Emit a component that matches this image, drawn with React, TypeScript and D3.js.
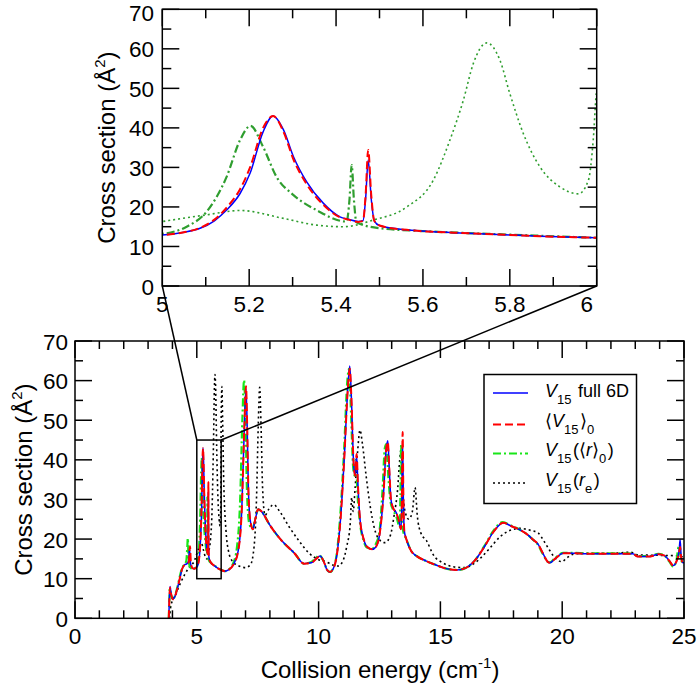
import React from 'react';
import * as d3 from 'd3';

// V15 full 6D  [energy (cm-1), cross section (Å^2)]
const full6D: [number, number][] = [
  [3.85, 0], [3.87, 4], [3.9, 8.0], [3.95, 6.0], [4.02, 4.8], [4.1, 5.5], [4.2, 7.5], [4.3, 10], [4.4, 12.5],
  [4.5, 13.5], [4.6, 13.8], [4.66, 14.5], [4.7, 17.5], [4.74, 14], [4.8, 12.8], [4.9, 12.5], [4.97, 12.8],
  [5.0, 12.9], [5.05, 13.6], [5.087, 14.6], [5.12, 16.5], [5.148, 19.2], [5.179, 23.4], [5.202, 28.5],
  [5.232, 39], [5.255, 43], [5.279, 39.5], [5.302, 32.7], [5.332, 26.4], [5.371, 20.9], [5.409, 17.5],
  [5.428, 16.9], [5.451, 16.3], [5.462, 16.5], [5.468, 22], [5.474, 31.9], [5.481, 22], [5.488, 16.5],
  [5.5, 15.3], [5.563, 14.2], [5.716, 13.3], [5.869, 12.6], [6.0, 12.2], [6.16, 11.9], [6.3, 12.2],
  [6.5, 13.5], [6.7, 17], [6.85, 28], [6.95, 48], [7.02, 58], [7.07, 48], [7.12, 32], [7.2, 24.5],
  [7.3, 22.5], [7.4, 25], [7.52, 27.5], [7.65, 27], [8.0, 23.5], [8.5, 19.5], [9.0, 16.5], [9.4, 13.8],
  [9.7, 14], [9.9, 15], [10.06, 15.7], [10.2, 14.5], [10.35, 12.2], [10.47, 11.7], [10.6, 12.5],
  [10.75, 16], [10.9, 25], [11.05, 40], [11.2, 58], [11.28, 63.7], [11.35, 55], [11.43, 40], [11.5, 36],
  [11.56, 41], [11.62, 33], [11.7, 25], [11.85, 20], [12.0, 18], [12.2, 17.4], [12.35, 18], [12.5, 21],
  [12.65, 30], [12.78, 43], [12.84, 44.8], [12.9, 38], [12.97, 30], [13.05, 28], [13.2, 26.5],
  [13.3, 24.5], [13.38, 22.5], [13.42, 30], [13.45, 44], [13.48, 30], [13.52, 22], [13.6, 20],
  [13.8, 17], [14.0, 15.8], [14.4, 14.5], [14.8, 13.5], [15.2, 12.6], [15.67, 12.2], [16.0, 12.6],
  [16.4, 14.5], [16.8, 18], [17.2, 22], [17.58, 24.1], [17.9, 23.3], [18.27, 22.3], [18.6, 21],
  [18.81, 19.8], [19.0, 18.8], [19.2, 16.5], [19.4, 14.3], [19.5, 14.0], [19.7, 15], [20.05, 16.4],
  [20.5, 16.4], [21, 16.3], [22, 16.3], [22.5, 16.3], [22.9, 16.3], [23.1, 15.6], [23.6, 15.6],
  [23.95, 16.2], [24.2, 15.8], [24.4, 14.5], [24.56, 13.3], [24.7, 14.5], [24.8, 17], [24.84, 19.9],
  [24.88, 16], [24.95, 14], [25.0, 14],
];

// <V15>0
const avgV15: [number, number][] = [
  [3.85, 0], [3.87, 4], [3.9, 7.8], [3.95, 6.0], [4.02, 4.8], [4.1, 5.5], [4.2, 7.5], [4.3, 10], [4.4, 12.5],
  [4.5, 13.5], [4.6, 13.8], [4.67, 14.2], [4.72, 18.2], [4.76, 13.8], [4.82, 12.7], [4.9, 12.5], [4.97, 12.8],
  [5.0, 12.9], [5.05, 13.6], [5.087, 14.7], [5.12, 16.8], [5.148, 19.8], [5.179, 24.5], [5.202, 30],
  [5.232, 40], [5.255, 43], [5.279, 39], [5.302, 32], [5.332, 25.8], [5.371, 20.5], [5.409, 17.4],
  [5.428, 16.8], [5.451, 16.2], [5.462, 16.5], [5.468, 23], [5.474, 34.4], [5.481, 23], [5.488, 16.5],
  [5.5, 15.3], [5.563, 14.2], [5.716, 13.3], [5.869, 12.6], [6.0, 12.2], [6.16, 11.9], [6.3, 12.2],
  [6.5, 13.5], [6.7, 17], [6.85, 28], [6.95, 48], [7.02, 58.6], [7.07, 48], [7.12, 32], [7.2, 24.5],
  [7.3, 22.5], [7.4, 25], [7.52, 27.5], [7.65, 27], [8.0, 23.5], [8.5, 19.5], [9.0, 16.5], [9.4, 13.8],
  [9.7, 14], [9.9, 15], [10.06, 15.7], [10.2, 14.5], [10.35, 12.2], [10.47, 11.7], [10.6, 12.5],
  [10.75, 16], [10.9, 25], [11.05, 40], [11.2, 58], [11.28, 63], [11.35, 55], [11.43, 40], [11.5, 36],
  [11.56, 41.5], [11.62, 33], [11.7, 25], [11.85, 20], [12.0, 18], [12.2, 17.4], [12.35, 18], [12.5, 21],
  [12.65, 30], [12.78, 43], [12.84, 44.5], [12.9, 38], [12.97, 30], [13.05, 28], [13.2, 26.5],
  [13.3, 24.5], [13.38, 22.5], [13.42, 31], [13.45, 47], [13.48, 31], [13.52, 22], [13.6, 20],
  [13.8, 17], [14.0, 15.8], [14.4, 14.5], [14.8, 13.5], [15.2, 12.6], [15.67, 12.2], [16.0, 12.6],
  [16.4, 14.5], [16.8, 18], [17.2, 22], [17.58, 24.1], [17.9, 23.3], [18.27, 22.3], [18.6, 21],
  [18.81, 19.8], [19.0, 18.8], [19.2, 16.5], [19.4, 14.3], [19.5, 14.0], [19.7, 15], [20.05, 16.4],
  [20.5, 16.4], [21, 16.3], [22, 16.3], [22.5, 16.3], [22.9, 16.3], [23.1, 15.6], [23.6, 15.6],
  [23.95, 16.2], [24.2, 15.8], [24.4, 14.5], [24.56, 13.3], [24.7, 14.5], [24.8, 16.5], [24.84, 18],
  [24.88, 15.5], [24.95, 14], [25.0, 14],
];

// V15(<r>0)
const avgR: [number, number][] = [
  [3.85, 0], [3.87, 4], [3.89, 7.5], [3.95, 5.8], [4.02, 4.8], [4.1, 5.6], [4.2, 7.8], [4.3, 10.5],
  [4.4, 12.8], [4.5, 13.6], [4.57, 14.5], [4.61, 18], [4.63, 20.2], [4.66, 15], [4.72, 13], [4.8, 12.5],
  [4.9, 12.6], [5.0, 13.2], [5.056, 15], [5.102, 18.8], [5.148, 27.6], [5.179, 36.9], [5.203, 40.5],
  [5.232, 35.2], [5.263, 27.6], [5.302, 23], [5.355, 19.2], [5.424, 16.3], [5.431, 22], [5.436, 30.6],
  [5.441, 22], [5.447, 16.1], [5.501, 14.6], [5.6, 13.9], [5.8, 13], [6.0, 12.2], [6.16, 11.9],
  [6.3, 12.3], [6.5, 14], [6.65, 18], [6.78, 30], [6.87, 50], [6.94, 60.1], [7.0, 50], [7.06, 32],
  [7.15, 24], [7.28, 22.5], [7.4, 25], [7.52, 27.5], [7.65, 27], [8.0, 23.5], [8.5, 19.5], [9.0, 16.5],
  [9.4, 13.8], [9.7, 14.2], [9.9, 15.3], [10.03, 15.9], [10.2, 14.5], [10.35, 12.2], [10.47, 11.7],
  [10.6, 12.6], [10.75, 16.5], [10.9, 27], [11.05, 43], [11.18, 60], [11.25, 63], [11.33, 52],
  [11.42, 38], [11.48, 36], [11.53, 40], [11.6, 31], [11.7, 24], [11.85, 19.5], [12.0, 17.8],
  [12.2, 17.6], [12.35, 18.8], [12.5, 22], [12.62, 32], [12.72, 43], [12.78, 44], [12.86, 36],
  [12.95, 29.5], [13.05, 27.5], [13.2, 25.5], [13.33, 23], [13.36, 32], [13.39, 44], [13.42, 30],
  [13.47, 22], [13.6, 20], [13.8, 17], [14.0, 15.8], [14.4, 14.5], [14.8, 13.5], [15.2, 12.6],
  [15.67, 12.2], [16.0, 12.6], [16.4, 14.5], [16.8, 18.2], [17.2, 22.3], [17.55, 24.3], [17.9, 23.4],
  [18.27, 22.3], [18.6, 21], [18.81, 19.8], [19.0, 18.6], [19.2, 16.3], [19.4, 14.3], [19.5, 14.1],
  [19.7, 15.2], [20.05, 16.5], [20.5, 16.5], [21, 16.4], [22, 16.4], [22.5, 16.4], [22.9, 16.3],
  [23.1, 15.7], [23.6, 15.7], [23.95, 16.3], [24.2, 15.8], [24.4, 14.3], [24.56, 13], [24.7, 15],
  [24.78, 18], [24.82, 17], [24.9, 14.5], [25.0, 13.5],
];

// V15(re)
const rEq: [number, number][] = [
  [3.88, 0], [3.92, 2.5], [4.0, 4.5], [4.1, 5.5], [4.3, 8.5], [4.5, 11], [4.7, 13], [4.9, 14.5],
  [5.0, 16.3], [5.102, 18], [5.179, 19.1], [5.279, 17.1], [5.355, 15.4], [5.417, 15], [5.486, 16.7],
  [5.563, 20], [5.624, 26.8], [5.662, 36.9], [5.693, 47], [5.716, 56.3], [5.747, 61.5], [5.777, 57.2],
  [5.8, 48.7], [5.831, 38.6], [5.869, 30.2], [5.915, 25.1], [5.958, 23.3], [5.981, 26.8], [5.992, 36.9],
  [6.0, 49.6], [6.03, 58.5], [6.06, 50], [6.1, 36], [6.2, 22], [6.3, 17], [6.45, 14.5], [6.7, 13.3],
  [7.0, 12.8], [7.2, 13.5], [7.35, 18], [7.45, 30], [7.52, 48], [7.58, 58.3], [7.64, 48], [7.7, 33],
  [7.8, 26], [7.95, 27.5], [8.15, 28.7], [8.4, 27], [8.8, 23], [9.2, 19.5], [9.6, 16.5], [10.0, 14.8],
  [10.3, 14.3], [10.6, 13.4], [10.8, 13.2], [11.0, 14.5], [11.15, 18], [11.3, 24], [11.36, 30.5],
  [11.42, 27], [11.5, 33], [11.6, 42], [11.7, 47.5], [11.8, 44], [11.95, 36], [12.1, 29], [12.3, 22.5],
  [12.5, 19.8], [12.73, 19.1], [12.95, 21], [13.1, 26], [13.25, 33], [13.33, 40], [13.4, 43],
  [13.45, 33], [13.55, 27], [13.7, 25], [13.85, 27], [13.96, 33], [14.05, 26], [14.2, 21.5],
  [14.44, 19.5], [14.71, 16], [15.1, 14], [15.53, 13], [15.94, 12.8], [16.3, 13.5], [16.63, 15.1],
  [17.0, 17.5], [17.45, 20.6], [17.9, 22.3], [18.27, 22.7], [18.7, 22.2], [19.02, 21.5], [19.25, 19.5],
  [19.43, 17.7], [19.7, 15.3], [19.98, 14.3], [20.2, 15.3], [20.46, 16.2], [21, 16.4], [22, 16.4],
  [22.8, 16.7], [23.1, 16.0], [24.0, 15.9], [24.6, 15.8], [24.85, 15.7], [25, 15.3],
];

const mainXMajor = [0, 5, 10, 15, 20, 25];
const mainYMajor = [0, 10, 20, 30, 40, 50, 60, 70];
const insetXMajor = [5, 5.2, 5.4, 5.6, 5.8, 6];
const insetXLabels = ['5', '5.2', '5.4', '5.6', '5.8', '6'];
const zoomBox = { x0: 5, x1: 6, y0: 10, y1: 45 };

const FONT = '"Liberation Sans", Arial, Helvetica, sans-serif';
const TICK_FS = 22.5;
const TITLE_FS = 24;
const LEG_FS = 18;

export default function App() {
  // main plot geometry
  const mx = d3.scaleLinear().domain([0, 25]).range([75, 684]);
  const my = d3.scaleLinear().domain([0, 70]).range([618.3, 341]);
  // inset geometry
  const ix = d3.scaleLinear().domain([5, 6]).range([162.3, 596.7]);
  const iy = d3.scaleLinear().domain([0, 70]).range([286, 9.3]);

  const mkLine = (sx: d3.ScaleLinear<number, number>, sy: d3.ScaleLinear<number, number>) =>
    d3.line<[number, number]>().x(d => sx(d[0])).y(d => sy(d[1])).curve(d3.curveMonotoneX);

  const mLine = mkLine(mx, my);
  const iLine = mkLine(ix, iy);

  const mainMinorX = d3.range(0, 26, 1);
  const mainMinorY = d3.range(0, 71, 5);
  const insetMinorX = d3.range(0, 11).map(i => 5 + i * 0.1);
  const insetMinorY = d3.range(0, 71, 5);

  const isMajor = (v: number, step: number) => Math.abs(v / step - Math.round(v / step)) < 1e-6;

  const series = [
    { data: rEq, mainColor: '#000000', insetColor: '#2f9e2f', dash: '2,3', w: 1.6 },
    { data: avgR, mainColor: '#19e619', insetColor: '#2f9e2f', dash: '8,3,2,3', w: 2.2 },
    { data: full6D, mainColor: '#0000ff', insetColor: '#0000ff', dash: undefined, w: 1.5 },
    { data: avgV15, mainColor: '#ff0000', insetColor: '#ff0000', dash: '8,4', w: 2 },
  ];

  const tickStroke = { stroke: '#000', strokeWidth: 1.5 };

  const frameTicks = (
    sx: d3.ScaleLinear<number, number>,
    sy: d3.ScaleLinear<number, number>,
    xs: number[],
    ys: number[],
    xStep: number,
    yStep: number,
    majorLen: number,
    minorLen: number,
  ) => {
    const [x0, x1] = sx.range();
    const [y0, y1] = sy.range();
    const out: React.ReactNode[] = [];
    xs.forEach((v, i) => {
      const len = isMajor(v, xStep) ? majorLen : minorLen;
      const px = sx(v);
      out.push(<line key={'xb' + i} x1={px} x2={px} y1={y0} y2={y0 - len} {...tickStroke} />);
      out.push(<line key={'xt' + i} x1={px} x2={px} y1={y1} y2={y1 + len} {...tickStroke} />);
    });
    ys.forEach((v, i) => {
      const len = isMajor(v, yStep) ? majorLen : minorLen;
      const py = sy(v);
      out.push(<line key={'yl' + i} x1={x0} x2={x0 + len} y1={py} y2={py} {...tickStroke} />);
      out.push(<line key={'yr' + i} x1={x1} x2={x1 - len} y1={py} y2={py} {...tickStroke} />);
    });
    out.push(
      <rect key="frame" x={x0} y={y1} width={x1 - x0} height={y0 - y1} fill="none" stroke="#000" strokeWidth={1.5} />,
    );
    return out;
  };

  const legendRows = [
    { y: 393, color: '#0000ff', dash: undefined, w: 1.6 },
    { y: 424.5, color: '#ff0000', dash: '8,4', w: 2 },
    { y: 453.5, color: '#19e619', dash: '8,3,2,3', w: 2.2 },
    { y: 483, color: '#000000', dash: '2,3', w: 1.6 },
  ];

  const sub = (t: string, k: string) => [
    <tspan key={k + 'a'} dy={7} fontSize={13}>{t}</tspan>,
    <tspan key={k + 'b'} dy={-7}>{'\u200A'}</tspan>,
  ];

  const yTitle = (
    <>
      Cross section (Å
      <tspan dy={-10} fontSize={15}>2</tspan>
      <tspan dy={10}>)</tspan>
    </>
  );

  return (
    <svg
      width={697}
      height={686}
      style={{ position: 'absolute', left: 0, top: 0, background: '#fff' }}
      fontFamily={FONT}
    >
      <defs>
        <clipPath id="mainClip">
          <rect x={75} y={341} width={609} height={277.3} />
        </clipPath>
        <clipPath id="insetClip">
          <rect x={162.3} y={9.3} width={434.4} height={276.7} />
        </clipPath>
      </defs>
      <rect x={0} y={0} width={697} height={686} fill="#fff" />

      {/* ---------- main plot ---------- */}
      <g clipPath="url(#mainClip)">
        {series.map((s, i) => (
          <path
            key={'m' + i}
            d={mLine(s.data) || ''}
            fill="none"
            stroke={s.mainColor}
            strokeWidth={s.w}
            strokeDasharray={s.dash}
          />
        ))}
      </g>
      {frameTicks(mx, my, mainMinorX, mainMinorY, 5, 10, 17, 8)}
      {mainXMajor.map(v => (
        <text key={'mxl' + v} x={mx(v)} y={643.5} fontSize={TICK_FS} textAnchor="middle">
          {v}
        </text>
      ))}
      {mainYMajor.map(v => (
        <text key={'myl' + v} x={68} y={my(v) + 8.5} fontSize={TICK_FS} textAnchor="end">
          {v}
        </text>
      ))}
      <text x={380} y={678} fontSize={TITLE_FS} textAnchor="middle">
        Collision energy (cm
        <tspan dy={-10} fontSize={15}>-1</tspan>
        <tspan dy={10}>)</tspan>
      </text>
      <text transform={`translate(32,${(341 + 618.3) / 2}) rotate(-90)`} fontSize={TITLE_FS} textAnchor="middle">
        {yTitle}
      </text>

      {/* legend */}
      <rect x={484} y={374.5} width={152.5} height={129} fill="#fff" stroke="#000" strokeWidth={1.5} />
      {legendRows.map((r, i) => (
        <line
          key={'lg' + i}
          x1={493}
          x2={528}
          y1={r.y}
          y2={r.y}
          stroke={r.color}
          strokeWidth={r.w}
          strokeDasharray={r.dash}
        />
      ))}
      <text x={545} y={397} fontSize={LEG_FS}>
        <tspan fontStyle="italic">V</tspan>
        {sub('15', 'a')}
        <tspan> full 6D</tspan>
      </text>
      <text x={545} y={427} fontSize={LEG_FS}>
        <tspan>⟨</tspan>
        <tspan fontStyle="italic">V</tspan>
        {sub('15', 'b')}
        <tspan>⟩</tspan>
        {sub('0', 'c')}
      </text>
      <text x={545} y={456} fontSize={LEG_FS}>
        <tspan fontStyle="italic">V</tspan>
        {sub('15', 'd')}
        <tspan>(⟨</tspan>
        <tspan fontStyle="italic">r</tspan>
        <tspan>⟩</tspan>
        {sub('0', 'e')}
        <tspan>)</tspan>
      </text>
      <text x={545} y={486} fontSize={LEG_FS}>
        <tspan fontStyle="italic">V</tspan>
        {sub('15', 'f')}
        <tspan>(</tspan>
        <tspan fontStyle="italic">r</tspan>
        {sub('e', 'g')}
        <tspan>)</tspan>
      </text>

      {/* ---------- inset ---------- */}
      <rect x={162.3} y={9.3} width={434.4} height={276.7} fill="#fff" />
      <g clipPath="url(#insetClip)">
        {series.map((s, i) => (
          <path
            key={'i' + i}
            d={iLine(s.data.filter(d => d[0] >= 4.9 && d[0] <= 6.1)) || ''}
            fill="none"
            stroke={s.insetColor}
            strokeWidth={s.w}
            strokeDasharray={s.dash}
          />
        ))}
      </g>
      {frameTicks(ix, iy, insetMinorX, insetMinorY, 0.2, 10, 17, 9)}
      {insetXMajor.map((v, i) => (
        <text
          key={'ixl' + i}
          x={i === insetXMajor.length - 1 ? ix(v) - 10 : ix(v)}
          y={312}
          fontSize={TICK_FS}
          textAnchor="middle"
        >
          {insetXLabels[i]}
        </text>
      ))}
      {mainYMajor.map(v => (
        <text key={'iyl' + v} x={154} y={Math.max(iy(v) + 8.5, 20.8)} fontSize={TICK_FS} textAnchor="end">
          {v}
        </text>
      ))}
      <text transform={`translate(115,${(9.3 + 286) / 2}) rotate(-90)`} fontSize={TITLE_FS} textAnchor="middle">
        {yTitle}
      </text>

      {/* ---------- zoom box and connectors ---------- */}
      <rect
        x={mx(zoomBox.x0)}
        y={my(zoomBox.y1)}
        width={mx(zoomBox.x1) - mx(zoomBox.x0)}
        height={my(zoomBox.y0) - my(zoomBox.y1)}
        fill="none"
        stroke="#000"
        strokeWidth={1.5}
      />
      <line x1={ix(5)} y1={iy(0)} x2={mx(zoomBox.x0)} y2={my(zoomBox.y1)} stroke="#000" strokeWidth={1.5} />
      <line x1={ix(6)} y1={iy(0)} x2={mx(zoomBox.x1)} y2={my(zoomBox.y1)} stroke="#000" strokeWidth={1.5} />
    </svg>
  );
}
